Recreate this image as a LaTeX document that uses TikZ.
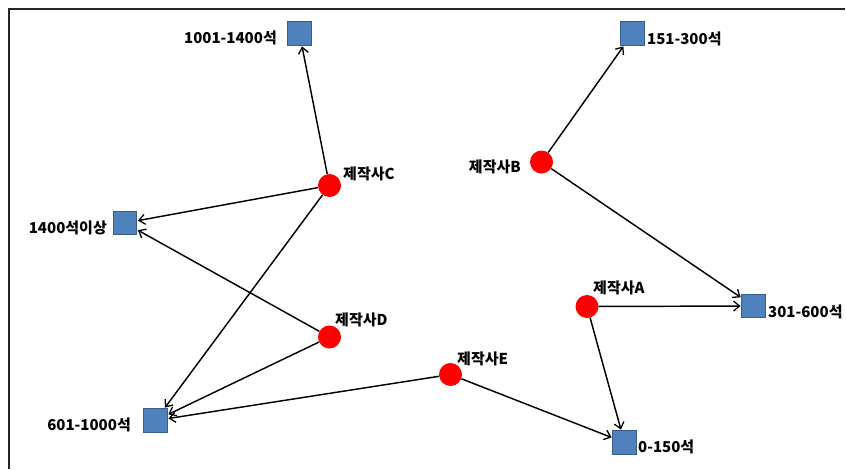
\documentclass[tikz,border=0pt]{standalone}
\usepackage{fontspec}
\newfontfamily\kr{Noto Sans CJK KR}
\usetikzlibrary{arrows.meta}
\definecolor{sqfill}{HTML}{4F81BD}
\definecolor{sqdraw}{HTML}{385D8A}
\tikzset{
  seat/.style={rectangle, fill=sqfill, draw=sqdraw, line width=1.4pt, minimum size=23.5pt, inner sep=0pt},
  maker/.style={circle, fill=red, minimum size=23pt, inner sep=0pt},
  lbl/.style={inner sep=0pt, font=\kr\bfseries\fontsize{15}{17}\selectfont},
  link/.style={draw=black, line width=1.45pt, -{Straight Barb[length=6pt,width=10pt,line width=1.3pt]}, shorten >=0.5pt},
}
\begin{document}
\begin{tikzpicture}[x=1pt,y=-1pt]
\useasboundingbox (0,0) rectangle (846,469);
\draw[line width=2pt, color=black!85] (845,8.5) -- (8.5,8.5) -- (8.5,469);
% seat classes
\node[seat] (s1001) at (299.5,33.5) {};
\node[seat] (s151)  at (632.5,33.5) {};
\node[seat] (s1400) at (125,223) {};
\node[seat] (s601)  at (155.5,420.5) {};
\node[seat] (s301)  at (753.5,306) {};
\node[seat] (s0)    at (624.5,442.5) {};
% makers
\node[maker] (C) at (329.5,185.5) {};
\node[maker] (B) at (541.5,162) {};
\node[maker] (D) at (329.5,337) {};
\node[maker] (A) at (587,306.5) {};
\node[maker] (E) at (450.5,374.5) {};
% labels
\node[lbl, anchor=base east] (l1001) at (277,43.5) {1001-1400석};
\node[lbl, anchor=base west] (l151)  at (647,44.5) {151-300석};
\node[lbl, anchor=base east] (l1400) at (107,233.5) {1400석이상};
\node[lbl, anchor=base east] (l601)  at (131,430.5) {601-1000석};
\node[lbl, anchor=base west] (l301)  at (768,317.5) {301-600석};
\node[lbl, anchor=base west] (l0)    at (638,452.5) {0-150석};
\node[lbl, anchor=base west] (lC) at (343,179.5) {제작사C};
\node[lbl, anchor=base east] (lB) at (521,172.5) {제작사B};
\node[lbl, anchor=base west] (lD) at (335,325.5) {제작사D};
\node[lbl, anchor=base west] (lA) at (593,293.5) {제작사A};
\node[lbl, anchor=base west] (lE) at (457,364.5) {제작사E};
% links
\draw[link] (C) -- (s1001);
\draw[link] (C) -- (s1400);
\draw[link] (C) -- (s601);
\draw[link] (D) -- (s1400);
\draw[link] (D) -- (s601);
\draw[link] (E) -- (s601);
\draw[link] (E) -- (s0);
\draw[link] (A) -- (s301);
\draw[link] (A) -- (s0);
\draw[link] (B) -- (s151);
\draw[link] (B) -- (s301);
\end{tikzpicture}
\end{document}
